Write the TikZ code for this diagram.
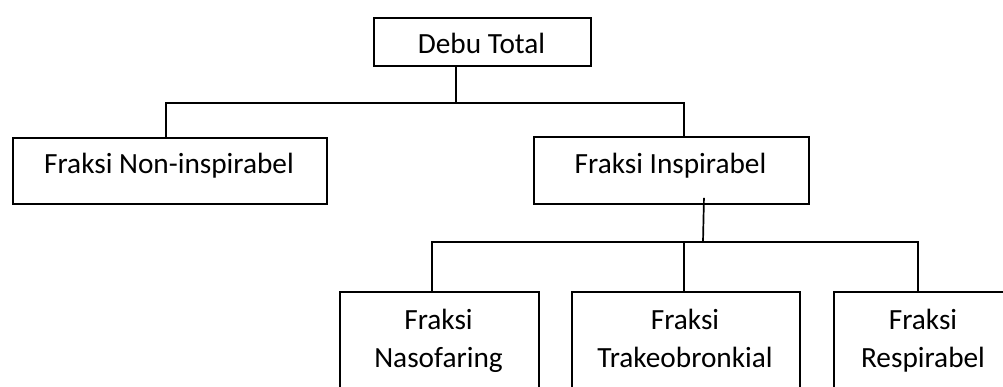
\documentclass[tikz,border=0pt]{standalone}
\usepackage{fontspec}
\setmainfont{Carlito}
\begin{document}
\begin{tikzpicture}[x=1pt,y=-1pt,
  box/.style={draw=black, line width=1.9pt, inner sep=0pt, anchor=north west},
  lbl/.style={anchor=base, inner sep=0pt, font=\fontsize{29.3}{38}\selectfont, align=center},
  conn/.style={draw=black, line width=1.7pt}]
\useasboundingbox (0,0) rectangle (1003,387);
\clip (0,0) rectangle (1003,387);
% boxes
\node[box, minimum width=217, minimum height=48] (debu) at (373,17) {};
\node[box, minimum width=314, minimum height=66] (nonin) at (12,137) {};
\node[box, minimum width=275, minimum height=67] (insp) at (533,136) {};
\node[box, minimum width=199, minimum height=130] (naso) at (339,291) {};
\node[box, minimum width=228, minimum height=130] (trak) at (571,291) {};
\node[box, minimum width=180, minimum height=130] (resp) at (833,291) {};
% labels
\node[lbl] (debut) at (481.5,54) {Debu Total};
\node[lbl] (nonint) at (169,174) {Fraksi Non-inspirabel};
\node[lbl] (inspt) at (670.5,174) {Fraksi Inspirabel};
\node[lbl] (nasot) at (438.5,367) {Fraksi\\Nasofaring};
\node[lbl] (trakt) at (685,367) {Fraksi\\Trakeobronkial};
\node[lbl] (respt) at (923,367) {Fraksi\\Respirabel};
% connectors
\coordinate (b1) at (456,103);
\coordinate (ni) at ([xshift=-4pt]nonin.north);
\coordinate (ii) at ([xshift=12.5pt]insp.north);
\draw[conn] (b1 |- debu.south) -- (b1);
\draw[conn] (ni) |- (b1) -| (ii);
\coordinate (io) at ([xshift=32.5pt,yshift=7pt]insp.south);
\coordinate (b2) at (703,242);
\draw[conn] (io) -- (b2);
\coordinate (nn) at ([xshift=-7.5pt]naso.north);
\coordinate (tt) at ([xshift=-2pt]trak.north);
\coordinate (rr) at ([xshift=-6pt]resp.north);
\draw[conn] (nn) |- (b2) -| (rr);
\draw[conn] (tt) -- (tt |- b2);
\end{tikzpicture}
\end{document}
